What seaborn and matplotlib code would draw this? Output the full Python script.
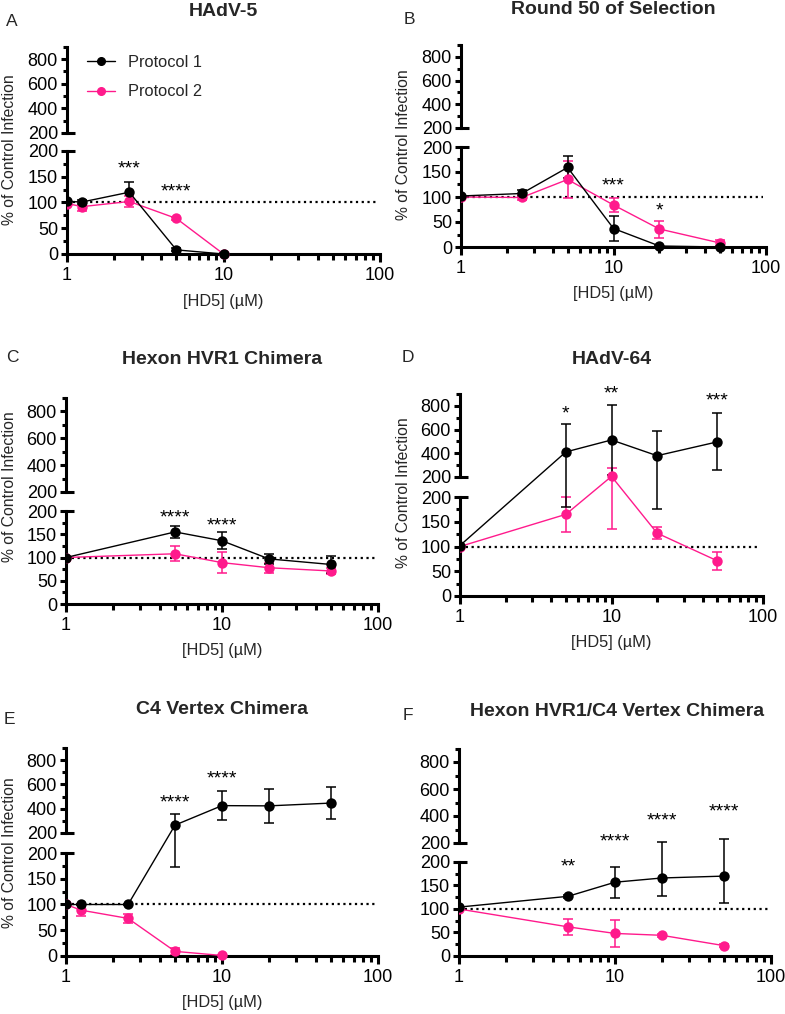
import numpy as np
import pandas as pd
import matplotlib
matplotlib.use('Agg')
import matplotlib.pyplot as plt
import seaborn as sns
from matplotlib.lines import Line2D
from matplotlib.ticker import FixedLocator, FixedFormatter, LogLocator, NullFormatter

sns.set_style('ticks')
plt.rcParams['font.family'] = ['Liberation Sans', 'DejaVu Sans']

BLACK = 'black'
PINK = '#FF1A8C'
W, H = 785, 1014

# A - HAdV-5
a_x1 = [1, 1.25, 2.5, 5, 10]
a_p1 = [102, 101, 120, 8, 0]
a_p1_sd = [3, 3, 20, 3, 1]
a_x2 = [1, 1.25, 2.5, 5, 10]
a_p2 = [98, 92, 102, 69, 0]
a_p2_sd = [4, 8, 11, 3, 1]
a_stars = [(2.5, 165, '***'), (5, 120, '****')]

# B - Round 50 of Selection
b_x1 = [1, 2.5, 5, 10, 20, 50]
b_p1 = [102, 107, 159, 37, 2, 0]
b_p1_sd = [2, 6, 22, 25, 2, 2]
b_x2 = [1, 2.5, 5, 10, 20, 50]
b_p2 = [100, 99, 135, 84, 36, 8]
b_p2_sd = [2, 5, 37, 14, 17, 7]
b_stars = [(10, 122, '***'), (20, 72, '*')]

# C - Hexon HVR1 Chimera
c_x1 = [1, 5, 10, 20, 50]
c_p1 = [100, 155, 136, 97, 85]
c_p1_sd = [2, 13, 18, 11, 18]
c_x2 = [1, 5, 10, 20, 50]
c_p2 = [100, 108, 89, 78, 71]
c_p2_sd = [2, 16, 23, 11, 6]
c_stars = [(5, 185, '****'), (10, 168, '****')]

# D - HAdV-64
d_x1 = [1, 5, 10, 20, 50]
d_p1 = [102, 412, 513, 380, 497]
d_p1_sd = [2, 232, 292, 205, 242]
d_x2 = [1, 5, 10, 20, 50]
d_p2 = [100, 165, 205, 127, 71]
d_p2_sd = [2, 35, 70, 12, 18]
d_stars = [(5, 730, '*'), (10, 900, '**'), (50, 840, '***')]

# E - C4 Vertex Chimera
e_x1 = [1, 1.25, 2.5, 5, 10, 20, 50]
e_p1 = [100, 100, 100, 265, 425, 423, 446]
e_p1_sd = [1, 1, 1, 93, 122, 138, 135]
e_x2 = [1, 1.25, 2.5, 5, 10]
e_p2 = [100, 89, 73, 9, 1]
e_p2_sd = [1, 12, 9, 7, 1]
e_stars = [(5, 445, '****'), (10, 645, '****')]

# F - Hexon HVR1/C4 Vertex Chimera
f_x1 = [1, 5, 10, 20, 50]
f_p1 = [104, 127, 157, 166, 170]
f_p1_sd = [1, 3, 33, 38, 57]
f_x2 = [1, 5, 10, 20, 50]
f_p2 = [100, 62, 48, 44, 22]
f_p2_sd = [1, 17, 29, 3, 3]
f_stars = [(5, 189, '**'), (10, 205, '****'), (20, 362, '****'), (50, 430, '****')]

# pixel layout: x of 1, x of 100, y of 0 / 200 (lower), y of 200 / 800 (upper)
panels = [
    ('A', 'HAdV-5', (67, 380, 254, 151, 133, 59), (12, 21), (223, 11), (10, 150), True,
     a_x1, a_p1, a_p1_sd, a_x2, a_p2, a_p2_sd, a_stars),
    ('B', 'Round 50 of Selection', (461, 766, 247, 147, 128, 57), (409, 20), (613, 9), (403, 145), True,
     b_x1, b_p1, b_p1_sd, b_x2, b_p2, b_p2_sd, b_stars),
    ('C', 'Hexon HVR1 Chimera', (66, 378, 604, 511, 492, 411), (12, 358), (222, 360), (10, 487), True,
     c_x1, c_p1, c_p1_sd, c_x2, c_p2, c_p2_sd, c_stars),
    ('D', 'HAdV-64', (460, 763, 596, 497, 477, 406), (408, 358), (612, 360), (403, 493), True,
     d_x1, d_p1, d_p1_sd, d_x2, d_p2, d_p2_sd, d_stars),
    ('E', 'C4 Vertex Chimera', (66, 378, 956, 853, 833, 760), (9, 719), (222, 710), (10, 853), True,
     e_x1, e_p1, e_p1_sd, e_x2, e_p2, e_p2_sd, e_stars),
    ('F', 'Hexon HVR1/C4 Vertex Chimera', (459, 771, 956, 862, 843, 762), (408, 716), (617, 711), None, False,
     f_x1, f_p1, f_p1_sd, f_x2, f_p2, f_p2_sd, f_stars),
]

fig = plt.figure(figsize=(W / 100, H / 100), dpi=100)
LW = 2.2
FS = 13


def broken_scale(y0, y200, u200, u800):
    # piecewise linear y: 0-200 lower segment, gap, 200-900 upper segment (pixel units)
    ppu = (y0 - y200) / 200
    upp = (u200 - u800) / 600
    xp = np.array([-1e4, 200, 200.5, 1e5])
    fp = np.array([-1e4 * ppu, 200 * ppu, (y0 - u200) + 0.5 * upp, (y0 - u200) + (1e5 - 200) * upp])
    return (lambda v: np.interp(v, xp, fp)), (lambda t: np.interp(t, fp, xp)), ppu, upp


for (letter, title, lay, let_pos, tit_pos, ylab_pos, has_xlab,
     x1, m1, s1, x2, m2, s2, stars) in panels:
    xl, xr, y0, y200, u200, u800 = lay
    fwd, inv, ppu, upp = broken_scale(y0, y200, u200, u800)
    u900 = u800 - 100 * upp
    bot = y0 + 9 * ppu
    ax = fig.add_axes([xl / W, 1 - bot / H, (xr - xl) / W, (bot - u900) / H])
    ax.set_xscale('log')
    ax.set_yscale('function', functions=(fwd, inv))

    df = pd.concat([
        pd.DataFrame({'conc': x2, 'pct': m2, 'sd': s2, 'protocol': 'Protocol 2'}),
        pd.DataFrame({'conc': x1, 'pct': m1, 'sd': s1, 'protocol': 'Protocol 1'}),
    ], ignore_index=True)

    ax.hlines(100, 1, 95, colors='black', linestyles=(0, (1, 1.6)), linewidth=1.6, zorder=1)
    for prot, col in [('Protocol 2', PINK), ('Protocol 1', BLACK)]:
        d = df[df.protocol == prot]
        ax.errorbar(d.conc, d.pct, yerr=d.sd, fmt='none', ecolor=col,
                    elinewidth=1.1, capsize=3.5, capthick=1.1, zorder=2)
    sns.lineplot(data=df, x='conc', y='pct', hue='protocol',
                 hue_order=['Protocol 2', 'Protocol 1'],
                 palette={'Protocol 1': BLACK, 'Protocol 2': PINK},
                 marker='o', markersize=7.5, markeredgewidth=0, linewidth=1,
                 estimator=None, sort=True, legend=False, ax=ax, zorder=3)

    ax.set_xlim(1, 100)
    ax.set_ylim(-9, 900)
    ax.set_xlabel('')
    ax.set_ylabel('')
    ax.set_facecolor('none')
    sns.despine(ax=ax)
    ax.spines['left'].set_visible(False)
    ax.spines['bottom'].set_position(('data', 0))
    ax.spines['bottom'].set_linewidth(LW)
    ax.spines['bottom'].set_color('black')

    # broken left axis drawn as two segments with caps
    ytr = ax.get_yaxis_transform()
    for a, b in [(0, 200), (200.5, 900)]:
        ax.plot([0, 0], [a, b], transform=ytr, color='black', lw=LW, clip_on=False,
                solid_capstyle='projecting')
    for yc in (200, 200.5):
        ax.plot([0, 0.025], [yc, yc], transform=ytr, color='black', lw=LW, clip_on=False,
                solid_capstyle='butt')

    ax.yaxis.set_major_locator(FixedLocator([0, 50, 100, 150, 200, 200.5, 400, 600, 800]))
    ax.yaxis.set_major_formatter(FixedFormatter(['0', '50', '100', '150', '200', '200', '400', '600', '800']))
    ax.yaxis.set_minor_locator(FixedLocator([25, 75, 125, 175, 300, 500, 700, 900]))
    ax.xaxis.set_major_locator(FixedLocator([1, 10, 100]))
    ax.xaxis.set_major_formatter(FixedFormatter(['1', '10', '100']))
    ax.xaxis.set_minor_locator(LogLocator(base=10, subs=np.arange(2, 10)))
    ax.xaxis.set_minor_formatter(NullFormatter())
    ax.tick_params(axis='y', which='major', direction='out', length=4.5, width=LW,
                   labelsize=FS, pad=2, color='black', labelcolor='black')
    ax.tick_params(axis='y', which='minor', direction='out', length=3.2, width=LW, color='black')
    ax.tick_params(axis='x', which='major', direction='out', length=5.5, width=LW,
                   labelsize=FS, pad=4, color='black', labelcolor='black')
    ax.tick_params(axis='x', which='minor', direction='out', length=4, width=LW, color='black')

    for sx, sy, txt in stars:
        ax.text(sx, sy, txt, ha='center', va='center', fontsize=14, color='black', clip_on=False)

    fig.text(let_pos[0] / W, 1 - let_pos[1] / H, letter, ha='center', va='center', fontsize=12.5)
    fig.text(tit_pos[0] / W, 1 - tit_pos[1] / H, title, ha='center', va='center',
             fontsize=14, fontweight='bold')
    if ylab_pos is not None:
        fig.text(ylab_pos[0] / W, 1 - ylab_pos[1] / H, '% of Control Infection', rotation=90,
                 ha='center', va='center', fontsize=11.3)
    if has_xlab:
        fig.text((xl + xr) / 2 / W, 1 - (y0 + 47) / H, '[HD5] (µM)', ha='center', va='center',
                 fontsize=11.8)

    if letter == 'A':
        handles = [Line2D([], [], color=BLACK, marker='o', markersize=5.5, lw=1),
                   Line2D([], [], color=PINK, marker='o', markersize=5.5, lw=1)]
        ax.legend(handles, ['Protocol 1', 'Protocol 2'], loc='upper left',
                  bbox_to_anchor=(72 / W, 1 - 40 / H), bbox_transform=fig.transFigure,
                  frameon=False, fontsize=11.8, handlelength=1.7, handletextpad=0.8,
                  labelspacing=0.9)

fig.savefig('out.png', dpi=100)
